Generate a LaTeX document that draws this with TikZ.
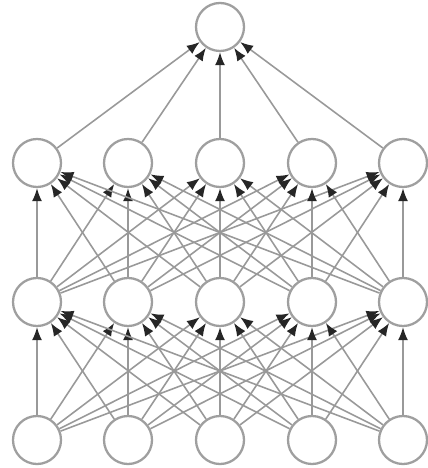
\documentclass[tikz,border=0pt]{standalone}
\usepackage{tikz}
\usetikzlibrary{arrows.meta, positioning}

\begin{document}
\begin{tikzpicture}[>={Latex[length=2.6mm, width=2mm, color=black!85]},
    neuron/.style={circle, draw=gray!75, line width=1.3pt, fill=white,
        minimum size=0.96cm, inner sep=0pt},
    conn/.style={->, draw=gray!80, line width=0.9pt}]
    \useasboundingbox (0,0) rectangle (8.54,-9.36);

    % 1. Les neurones
    \node[neuron] (out) at (4.4,-0.54) {};
    \foreach \i/\x in {1/0.74, 2/2.56, 3/4.4, 4/6.24, 5/8.06} {
        \node[neuron] (a\i) at (\x,-3.26) {};
        \node[neuron] (b\i) at (\x,-6.04) {};
        \node[neuron] (c\i) at (\x,-8.8) {};
    }

    % 2. Les connexions
    \foreach \i in {1,...,5} {
        \draw[conn] (a\i) -- (out);
        \foreach \j in {1,...,5} {
            \draw[conn] (b\i) -- (a\j);
            \draw[conn] (c\i) -- (b\j);
        }
    }

\end{tikzpicture}
\end{document}
